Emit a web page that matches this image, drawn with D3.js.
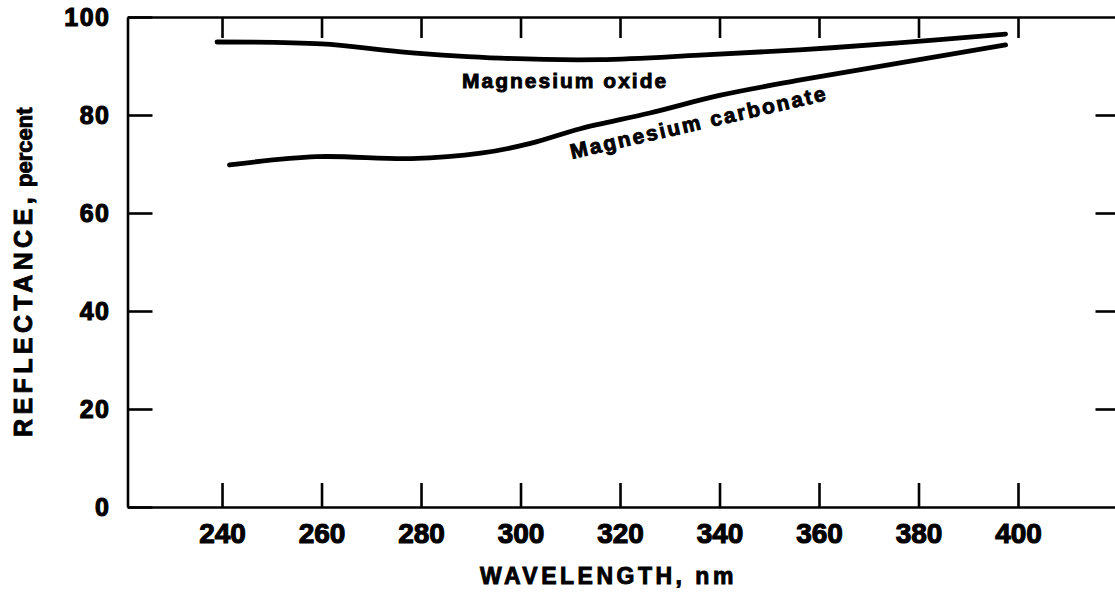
<!DOCTYPE html>
<html lang="en">
<head>
<meta charset="utf-8">
<title>Reflectance of magnesium oxide and magnesium carbonate</title>
<style>
  html,body{margin:0;background:#fff;overflow:hidden;}
  svg{display:block;}
  .axis path,.axis line{stroke:#000;stroke-width:2.6;}
  .tick text{font-family:"Liberation Sans",Arial,sans-serif;font-weight:bold;fill:#000;stroke:#000;stroke-width:1.1;}
  .lbl{font-family:"Liberation Sans",Arial,sans-serif;font-weight:bold;fill:#000;stroke:#000;stroke-width:0.9;}
</style>
</head>
<body>
<script src="https://cdn.jsdelivr.net/npm/d3@7"></script>
<script>
// wavelength (nm) and reflectance (%)
const oxideNm  = [239, 260, 276, 296, 316, 336, 356, 376, 397.5];
const oxideR   = [94.9, 94.5, 92.9, 91.6, 91.3, 92.2, 93.3, 94.7, 96.5];
const carbNm   = [241.5, 259, 278, 292, 302, 312, 326, 340, 356, 376, 397.5];
const carbR    = [69.8, 71.5, 71.1, 72.2, 74.2, 77.2, 80.4, 84.0, 87.1, 90.6, 94.3];
const xTicks   = [240, 260, 280, 300, 320, 340, 360, 380, 400];
const yTicks   = [0, 20, 40, 60, 80, 100];
const yMarks   = [20, 40, 60, 80];

const W = 1115, H = 613;
const svg = d3.select("body").append("svg").attr("width", W).attr("height", H);

const x = d3.scaleLinear().domain([221, 420]).range([127.5, 1117.5]);
const y = d3.scaleLinear().domain([0, 100]).range([507, 17]);

// frame + ticks
svg.append("g").attr("class", "axis").attr("transform", `translate(0,${y(0)})`)
  .call(d3.axisBottom(x).tickValues(xTicks).tickSize(-24).tickSizeOuter(0).tickPadding(16))
  .selectAll("text").style("font-size", "28px");

svg.append("g").attr("class", "axis").attr("transform", `translate(0,${y(100)})`)
  .call(d3.axisTop(x).tickValues(xTicks).tickSize(-21).tickSizeOuter(0).tickFormat(""));

svg.append("g").attr("class", "axis").attr("transform", `translate(${x(221)},0)`)
  .call(d3.axisLeft(y).tickValues(yTicks).tickSize(-25).tickSizeOuter(0).tickPadding(17))
  .selectAll("text").style("font-size", "25px").style("letter-spacing", "1.5px");

svg.append("g").attr("class", "axis").attr("transform", `translate(${x(420)},0)`)
  .call(d3.axisRight(y).tickValues(yMarks).tickSize(-22).tickSizeOuter(0).tickFormat(""));

// curves
const line = d3.line().x(d => x(d[0])).y(d => y(d[1])).curve(d3.curveCatmullRom.alpha(0.5));
const series = [d3.zip(oxideNm, oxideR), d3.zip(carbNm, carbR)];
svg.append("g").selectAll("path").data(series).join("path")
  .attr("d", line)
  .attr("fill", "none")
  .attr("stroke", "#000")
  .attr("stroke-width", 4.8)
  .attr("stroke-linecap", "round");

// curve labels
svg.append("text").attr("class", "lbl")
  .attr("x", 462).attr("y", 88)
  .style("font-size", "21px").style("letter-spacing", "2px")
  .text("Magnesium oxide");

svg.append("text").attr("class", "lbl")
  .attr("transform", "translate(572,159) rotate(-13)")
  .style("font-size", "21px").style("letter-spacing", "2.2px")
  .text("Magnesium carbonate");

// axis titles
svg.append("text").attr("class", "lbl")
  .attr("x", 480).attr("y", 584)
  .style("font-size", "23px").style("letter-spacing", "3.5px")
  .text("WAVELENGTH, nm");

const yt = svg.append("text").attr("class", "lbl")
  .attr("transform", "translate(32,437) rotate(-90)");
yt.append("tspan").style("font-size", "25px").style("letter-spacing", "4.4px").text("REFLECTANCE,");
yt.append("tspan").style("font-size", "22px").attr("dx", 6).text("percent");
</script>
</body>
</html>
